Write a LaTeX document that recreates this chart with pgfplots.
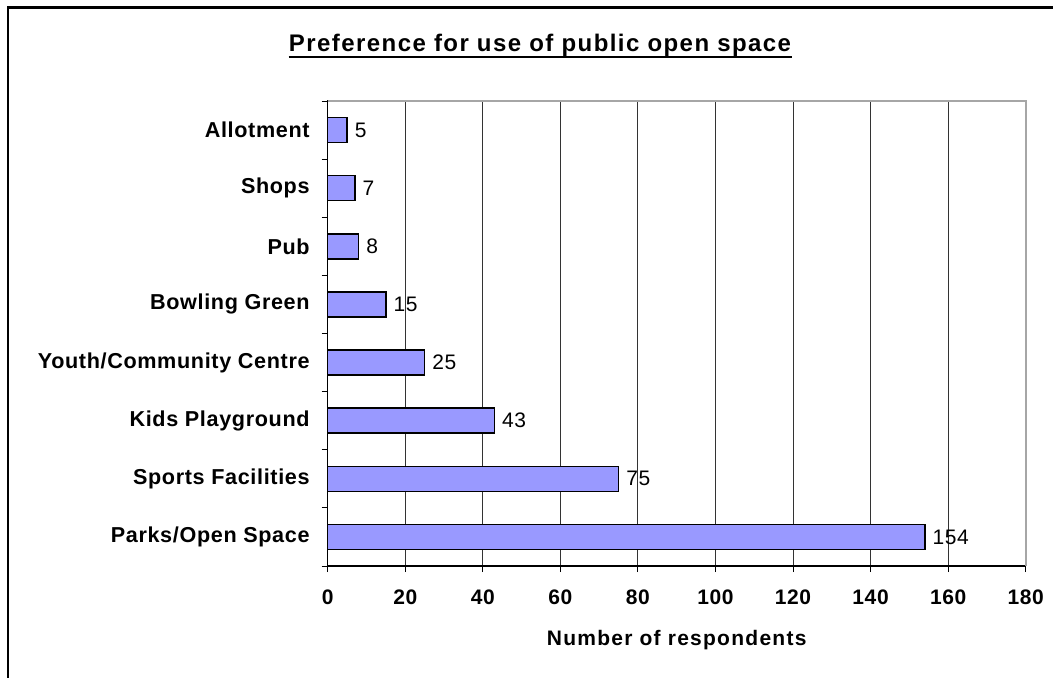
\documentclass[border=0pt]{standalone}
\usepackage{pgfplots}
\pgfplotsset{compat=1.18}
\usepackage{fontspec}
\setmainfont{Liberation Sans}[LetterSpace=3]
\newfontfamily\widefont{Liberation Sans}[LetterSpace=6]
\definecolor{barfill}{RGB}{153,153,255}
\begin{document}
\begin{tikzpicture}
\useasboundingbox (0,0) rectangle (526.5pt,338.5pt);
\draw[line width=1.35pt] (4pt,-20pt) -- (4pt,334.9pt) -- (560pt,334.9pt);
\node[font=\widefont\fontsize{12}{14}\selectfont\bfseries, anchor=base, inner sep=0pt] (t) at (270pt,312.65pt) {Preference for use of public open space};
\draw[line width=1pt] ([yshift=-2.65pt]t.base west) -- ([yshift=-2.65pt]t.base east);
\begin{axis}[
  at={(163.85pt,55.5pt)}, anchor=south west,
  scale only axis, width=349pt, height=232.5pt,
  xbar, bar width=12.5pt,
  xmin=0, xmax=180, ymin=-0.5, ymax=7.5,
  xtick={0,20,...,180},
  ytick={-0.5,0.5,1.5,2.5,3.5,4.5,5.5,6.5,7.5}, yticklabels={},
  extra y ticks={0,1,2,3,4,5,6,7},
  extra y tick labels={Parks/Open Space,Sports Facilities,Kids Playground,Youth/Community Centre,Bowling Green,Pub,Shops,Allotment},
  extra y tick style={major tick length=0pt},
  xtick pos=bottom, ytick pos=left,
  tick align=outside, major tick length=3pt,
  tick style={black, line width=0.5pt},
  axis line style={black, line width=0.6pt},
  xmajorgrids, major grid style={black!80, line width=0.5pt},
  /pgf/number format/assume math mode=true,
  xticklabel style={font=\fontsize{10.5}{12}\selectfont\bfseries, anchor=base, inner sep=0pt, yshift=-16pt},
  yticklabel style={font=\fontsize{10.8}{12}\selectfont\bfseries, anchor=east, inner sep=0pt, xshift=-8.85pt},
  xlabel={Number of respondents},
  xlabel style={at={(axis description cs:0.5,0)}, anchor=base, yshift=-39.85pt, font=\widefont\fontsize{10.5}{12}\selectfont\bfseries},
  nodes near coords, nodes near coords align={horizontal},
  nodes near coords style={font=\fontsize{10.5}{12}\selectfont, anchor=west, inner sep=0pt, xshift=3.5pt, black},
  clip=false,
]
\addplot[fill=barfill, draw=black, line width=0.75pt] coordinates {
 (154,0) (75,1) (43,2) (25,3) (15,4) (8,5) (7,6) (5,7)
};
\draw[gray!70, line width=0.8pt] (rel axis cs:0,1) -- (rel axis cs:1,1) -- (rel axis cs:1,0);
\end{axis}
\end{tikzpicture}
\end{document}
